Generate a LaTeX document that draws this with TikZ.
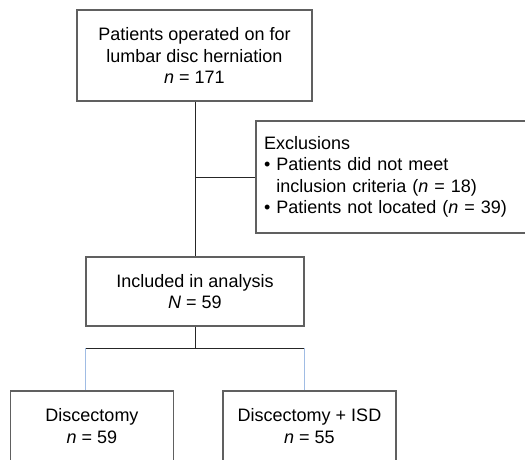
\documentclass[tikz,border=0pt]{standalone}
\usepackage{fontspec}
\setmainfont{Liberation Sans}
\usetikzlibrary{positioning}
\definecolor{boxgray}{RGB}{96,96,96}
\definecolor{linkblue}{RGB}{160,188,228}

\begin{document}
\begin{tikzpicture}[x=1pt,y=-1pt]
    \tikzstyle{every node}=[font=\fontsize{18}{21.5}\selectfont]
    \tikzstyle{stagebox}=[draw=boxgray,line width=1.2pt,align=center,inner sep=0pt]
    \tikzstyle{link}=[draw=black!85,line width=0.9pt]
    \tikzstyle{armlink}=[draw=linkblue,line width=0.9pt]
    \useasboundingbox (0,0) rectangle (525,460);
    \node[stagebox,minimum width=235,minimum height=91] (operated) at (194.5,55.5) {Patients operated on for\\lumbar disc herniation\\\textit{n} = 171};
    \node[stagebox,minimum width=271,minimum height=112,text width=255,align=left,inner xsep=8] (exclusions) at (391.5,177) {Exclusions\\\textbullet\ Patients did not meet\\\hphantom{\textbullet\ }inclusion criteria (\textit{n} = 18)\\\textbullet\ Patients not located (\textit{n} = 39)};
    \node[stagebox,minimum width=218,minimum height=69] (included) at (195,291.5) {Included in analysis\\\textit{N} = 59};
    \node[stagebox,minimum width=162.5,minimum height=70] (discectomy) at (92,426) {Discectomy\\\textit{n} = 59};
    \node[stagebox,minimum width=173,minimum height=70] (isd) at (309.5,426) {Discectomy + ISD\\\textit{n} = 55};
    \coordinate (fork) at (195,348);
    \coordinate (forkL) at (included.south west |- fork);
    \coordinate (forkR) at (included.south east |- fork);
    \draw[link] (operated.south -| included.north) -- (included.north);
    \draw[link] (included.north |- exclusions.west) -- (exclusions.west);
    \draw[link] (included.south) -- (fork);
    \draw[link] (forkL) -- (forkR);
    \draw[armlink] (forkL) -- (forkL |- discectomy.north);
    \draw[armlink] (forkR) -- (forkR |- isd.north);
\end{tikzpicture}
\end{document}
